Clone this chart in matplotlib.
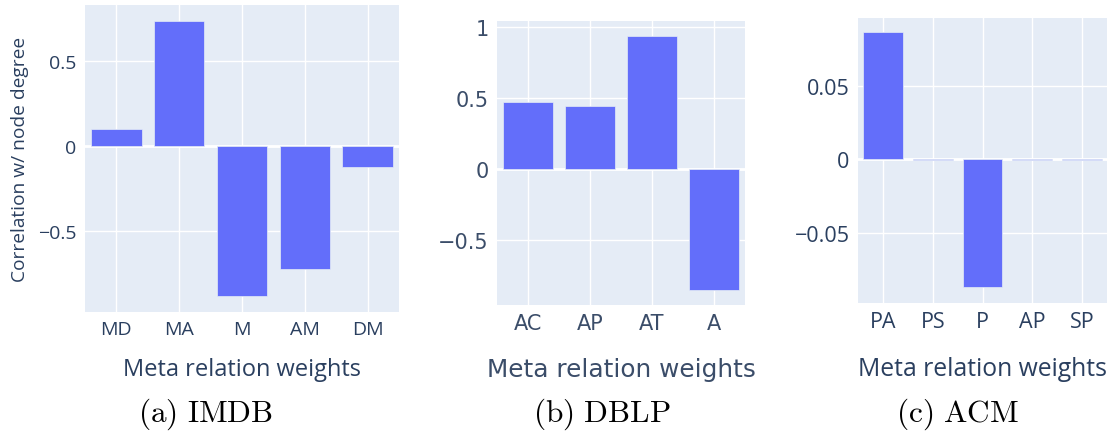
import matplotlib
matplotlib.use("Agg")
import matplotlib.pyplot as plt

plt.rcParams['mathtext.fontset'] = 'cm'

# Data
imdb_cats = ["MD", "MA", "M", "AM", "DM"]
imdb_vals = [0.098, 0.735, -0.88, -0.723, -0.122]

dblp_cats = ["AC", "AP", "AT", "A"]
dblp_vals = [0.474, 0.446, 0.939, -0.852]

acm_cats = ["PA", "PS", "P", "AP", "SP"]
acm_vals = [0.086, -0.0003, -0.0865, -0.0003, -0.0003]

W, H = 1112, 439
BAR = "#636efa"
BG = "#e5ecf6"
TXT = "#2a3f5f"
TXT_B = "#3b4d69"

fig = plt.figure(figsize=(W / 100, H / 100), dpi=100)


def px_axes(x0, y0, x1, y1):
    return fig.add_axes([x0 / W, (H - y1) / H, (x1 - x0) / W, (y1 - y0) / H])


def panel(ax, cats, vals, ylim, yticks, ylabels, vgrid, tick_fs, font, color):
    ax.set_facecolor(BG)
    for s in ax.spines.values():
        s.set_visible(False)
    x = list(range(len(cats)))
    ax.bar(x, vals, width=0.8, color=BAR, edgecolor=BG, linewidth=0.5, zorder=3)
    ax.set_xlim(-0.5, len(cats) - 0.5)
    ax.set_ylim(*ylim)
    ax.set_yticks(yticks)
    ax.set_yticklabels(ylabels)
    ax.set_xticks(x)
    ax.set_xticklabels(cats)
    ax.yaxis.grid(True, color="white", linewidth=1.0, zorder=1)
    ax.xaxis.grid(vgrid, color="white", linewidth=1.0, zorder=1)
    ax.axhline(0, color="white", linewidth=2.0, zorder=2)
    ax.tick_params(length=0, colors=color, labelsize=tick_fs, pad=6)
    for lbl in ax.get_xticklabels() + ax.get_yticklabels():
        lbl.set_fontfamily(font)
    ax.set_axisbelow(True)


# (a) IMDB
axa = px_axes(85, 6, 399, 313)
panel(axa, imdb_cats, imdb_vals, (-0.976, 0.829), [-0.5, 0, 0.5],
      ["\u22120.5", "0", "0.5"], True, 14, "Open Sans", TXT)

# (b) DBLP
axb = px_axes(497, 22, 745, 306)
panel(axb, dblp_cats, dblp_vals, (-0.956, 1.045), [-0.5, 0, 0.5, 1],
      ["\u22120.5", "0", "0.5", "1"], False, 15, "DejaVu Sans", TXT_B)

# (c) ACM
axc = px_axes(858, 19, 1107, 304)
panel(axc, acm_cats, acm_vals, (-0.0972, 0.0957), [-0.05, 0, 0.05],
      ["\u22120.05", "0", "0.05"], False, 15.5, "Open Sans", TXT)

# y label
fig.text(20 / W, 1 - 159 / H, "Correlation w/ node degree", rotation=90,
         ha="center", va="center", color=TXT, fontsize=13.8, family="Open Sans")

# x labels
xlabs = [(242, 17, "Open Sans", TXT), (621, 17.8, "DejaVu Sans", TXT_B),
         (982, 17.8, "Open Sans", TXT)]
for xc, fs, fam, col in xlabs:
    fig.text(xc / W, 1 - 370 / H, "Meta relation weights", ha="center",
             va="center", color=col, fontsize=fs, family=fam)

# captions
caps = [(206, r"$\mathrm{(a)\ IMDB}$"), (602, r"$\mathrm{(b)\ DBLP}$"),
        (957, r"$\mathrm{(c)\ ACM}$")]
for xc, t in caps:
    fig.text(xc / W, 1 - 414 / H, t, ha="center", va="center",
             color="black", fontsize=22.5)

fig.savefig("out.png", dpi=100)
